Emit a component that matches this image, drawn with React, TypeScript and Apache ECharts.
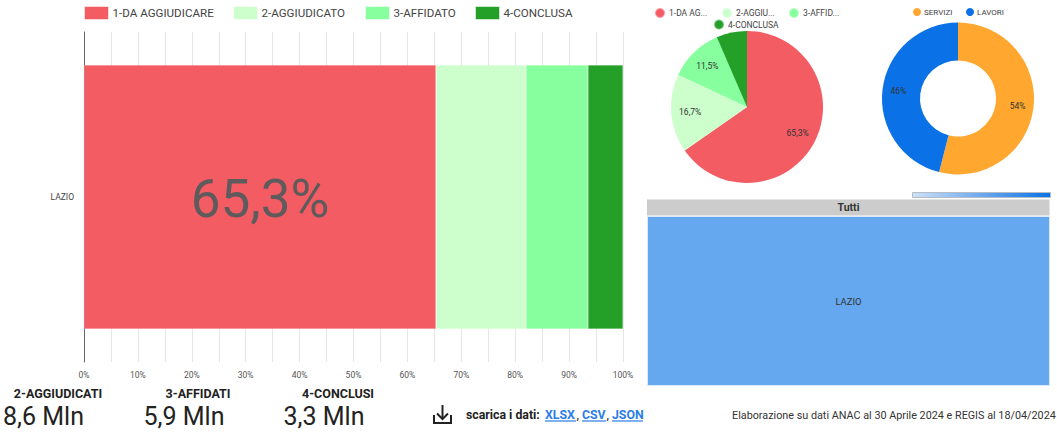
import React, { useEffect, useRef } from "react";
import * as echarts from "echarts";

const regions = ["LAZIO"];
const stages = ["1-DA AGGIUDICARE", "2-AGGIUDICATO", "3-AFFIDATO", "4-CONCLUSA"];
const stageShort = ["1-DA AG...", "2-AGGIU...", "3-AFFID...", "4-CONCLUSA"];
const stageValues = [65.3, 16.7, 11.5, 6.5];
const stageColors = ["#f45c63", "#ccffcc", "#88ff9f", "#24a028"];
const typeNames = ["SERVIZI", "LAVORI"];
const typeValues = [54, 46];
const typeColors = ["#ffa72e", "#0a72e6"];
const treemapRoot = "Tutti";
const treemapValue = 51.5;
const kpiTitles = ["2-AGGIUDICATI", "3-AFFIDATI", "4-CONCLUSI"];
const kpiValues = ["8,6 Mln", "5,9 Mln", "3,3 Mln"];
const footnote = "Elaborazione su dati ANAC al 30 Aprile 2024 e REGIS al 18/04/2024";

const FONT = "Roboto";
const comma = (v: number) => v.toFixed(1).replace(".", ",") + "%";

const txt = (text: string, x: number, y: number, fontSize: number, fill: string, extra: any = {}) => ({
  type: "text",
  x,
  y,
  z: 100,
  silent: true,
  style: { text, fontSize, fill, fontFamily: FONT, textVerticalAlign: "middle", ...extra },
});
const stroke = { stroke: "#222222", lineWidth: 2, fill: "none" };
const link = (text: string, x: number, width: number) => [
  txt(text, x, 415, 12.3, "#2a7de8", { fontWeight: "bold" }),
  { type: "line", silent: true, shape: { x1: x, y1: 421, x2: x + width, y2: 421 }, style: { stroke: "#2a7de8", lineWidth: 1.2 } },
];

const kpiTitleX = [58, 198, 338];
const kpiValueX = [3, 143.5, 283.5];
const barLegendX = [84, 233, 365, 475];
const pieLegendX = [654, 721, 788, 713];
const pieLegendY = [7, 7, 7, 18.5];
const typeLegendX = [913, 966];

export default function App() {
  const ref = useRef<HTMLDivElement>(null);
  useEffect(() => {
    document.body.style.margin = "0";
    const chart = echarts.init(ref.current!, undefined, { renderer: "svg" });
    const pieData = stages.map((name, i) => ({ name, value: stageValues[i], itemStyle: { color: stageColors[i] } }));
    const typeData = typeNames.map((name, i) => ({ name, value: typeValues[i], itemStyle: { color: typeColors[i] } }));
    const legendBase = { selectedMode: false, padding: 0, textStyle: { fontFamily: FONT, color: "#444444" } };
    chart.setOption({
      animation: false,
      textStyle: { fontFamily: FONT },
      legend: [
        ...stages.map((name, i) => ({
          ...legendBase, data: [name], left: barLegendX[i], top: 6, icon: "rect", itemWidth: 24, itemHeight: 13,
          itemStyle: { borderColor: "rgba(255,255,255,0.5)", borderWidth: 1 },
          textStyle: { ...legendBase.textStyle, fontSize: 11.6, padding: [0, 0, 0, -1] },
        })),
        ...stages.map((name, i) => ({
          ...legendBase, data: [name], left: pieLegendX[i], top: pieLegendY[i], icon: "circle", itemWidth: 10, itemHeight: 10,
          formatter: (n: string) => stageShort[stages.indexOf(n)],
          textStyle: { ...legendBase.textStyle, fontSize: 8.5, padding: [0, 0, 0, -1] },
        })),
        ...typeNames.map((name, i) => ({
          ...legendBase, data: [name], left: typeLegendX[i], top: 8, icon: "circle", itemWidth: 8, itemHeight: 8,
          textStyle: { ...legendBase.textStyle, fontSize: 8, padding: [0, 0, 0, -2] },
        })),
      ],
      grid: { left: 84, top: 32, width: 539, height: 330 },
      xAxis: {
        type: "value", min: 0, max: 100, interval: 5,
        axisLine: { show: false }, axisTick: { show: false },
        splitLine: { show: true, lineStyle: { color: "#e6e6e6", width: 1 } },
        axisLabel: {
          color: "#555555", fontSize: 8.5, margin: 8, hideOverlap: false,
          formatter: (v: number) => (v % 10 === 0 ? `${v}%` : ""),
        },
      },
      yAxis: {
        type: "category", data: regions,
        axisLine: { show: true, lineStyle: { color: "#666666", width: 1 } }, axisTick: { show: false },
        axisLabel: { color: "#444444", fontSize: 8.5, margin: 10 },
      },
      series: [
        ...stages.map((name, i) => ({
          type: "bar", name, stack: "total", barWidth: "80%", data: [stageValues[i]],
          itemStyle: { color: stageColors[i], borderColor: "rgba(255,255,255,0.4)", borderWidth: 0.5 },
          label: i === 0
            ? { show: true, position: "inside", fontSize: 53, offset: [0, 2], color: "#5f5a5c", fontFamily: FONT, formatter: (p: any) => comma(p.value) }
            : { show: false },
        })),
        { type: "pie", name: "stages", center: [747, 107], radius: [0, 76], startAngle: 90, data: pieData, label: { show: false }, labelLine: { show: false } },
        {
          type: "pie", name: "stageLabels", center: [747, 107], radius: [32, 76], startAngle: 90, silent: true,
          data: pieData.map((d, i) => ({ ...d, itemStyle: { color: "transparent" }, label: { show: i < 3 } })),
          labelLine: { show: false },
          label: { position: "inside", fontSize: 8.5, color: "#333333", formatter: (p: any) => comma(p.value) },
        },
        {
          type: "pie", name: "types", center: [958, 98.5], radius: [38, 76], startAngle: 90, data: typeData, labelLine: { show: false },
          label: { position: "inside", fontSize: 8.5, color: "#333333", formatter: (p: any) => `${p.value}%` },
        },
        {
          type: "treemap", left: 647, top: 199, width: 403, height: 187, roam: false, nodeClick: false,
          breadcrumb: { show: false },
          levels: [
            { itemStyle: { borderWidth: 0, gapWidth: 0 } },
            {
              itemStyle: { borderWidth: 0, gapWidth: 0 },
              upperLabel: { show: true, height: 17, formatter: () => "" },
            },
            { itemStyle: { color: "#65a8f0", borderColor: "#dce9f8", borderWidth: 1 }, label: { show: true, position: "inside", align: "center", verticalAlign: "middle", color: "#333333", fontSize: 9.5, fontFamily: FONT } },
          ],
          data: [{ name: treemapRoot, value: treemapValue, children: regions.map((name) => ({ name, value: treemapValue })) }],
        },
      ],
      graphic: [
        {
          type: "rect", silent: true, shape: { x: 912.5, y: 192.5, width: 138, height: 5 },
          style: {
            stroke: "#b5bcc5", lineWidth: 1,
            fill: new echarts.graphic.LinearGradient(0, 0, 1, 0, [{ offset: 0, color: "#cfe0f6" }, { offset: 1, color: "#0a72e6" }]),
          },
        },
        { type: "rect", z: 99, silent: true, shape: { x: 647, y: 199.5, width: 402.5, height: 16 }, style: { fill: "#cccccc" } },
        txt(treemapRoot, 848.5, 207.5, 10.5, "#333333", { fontWeight: "bold", textAlign: "center" }),
        ...kpiTitles.map((t, i) => txt(t, kpiTitleX[i], 393, 12.5, "#222222", { fontWeight: "bold", textAlign: "center" })),
        ...kpiValues.map((t, i) => txt(t, kpiValueX[i], 416, 25, "#222222")),
        { type: "line", silent: true, shape: { x1: 442.5, y1: 405, x2: 442.5, y2: 419 }, style: stroke },
        { type: "polyline", silent: true, shape: { points: [[437, 413.5], [442.5, 419], [448, 413.5]] }, style: stroke },
        { type: "polyline", silent: true, shape: { points: [[434, 415], [434, 423], [451, 423], [451, 415]] }, style: stroke },
        txt("scarica i dati:", 466, 415, 12.3, "#222222", { fontWeight: "bold" }),
        ...link("XLSX", 545, 31),
        txt(",", 576.5, 415, 12.3, "#222222"),
        ...link("CSV", 582, 24),
        txt(",", 606.5, 415, 12.3, "#222222"),
        ...link("JSON", 612, 31),
        txt(footnote, 732, 415, 10.8, "#333333"),
      ],
    });
    return () => chart.dispose();
  }, []);
  return <div ref={ref} style={{ position: "absolute", left: 0, top: 0, width: 1057, height: 433 }} />;
}
